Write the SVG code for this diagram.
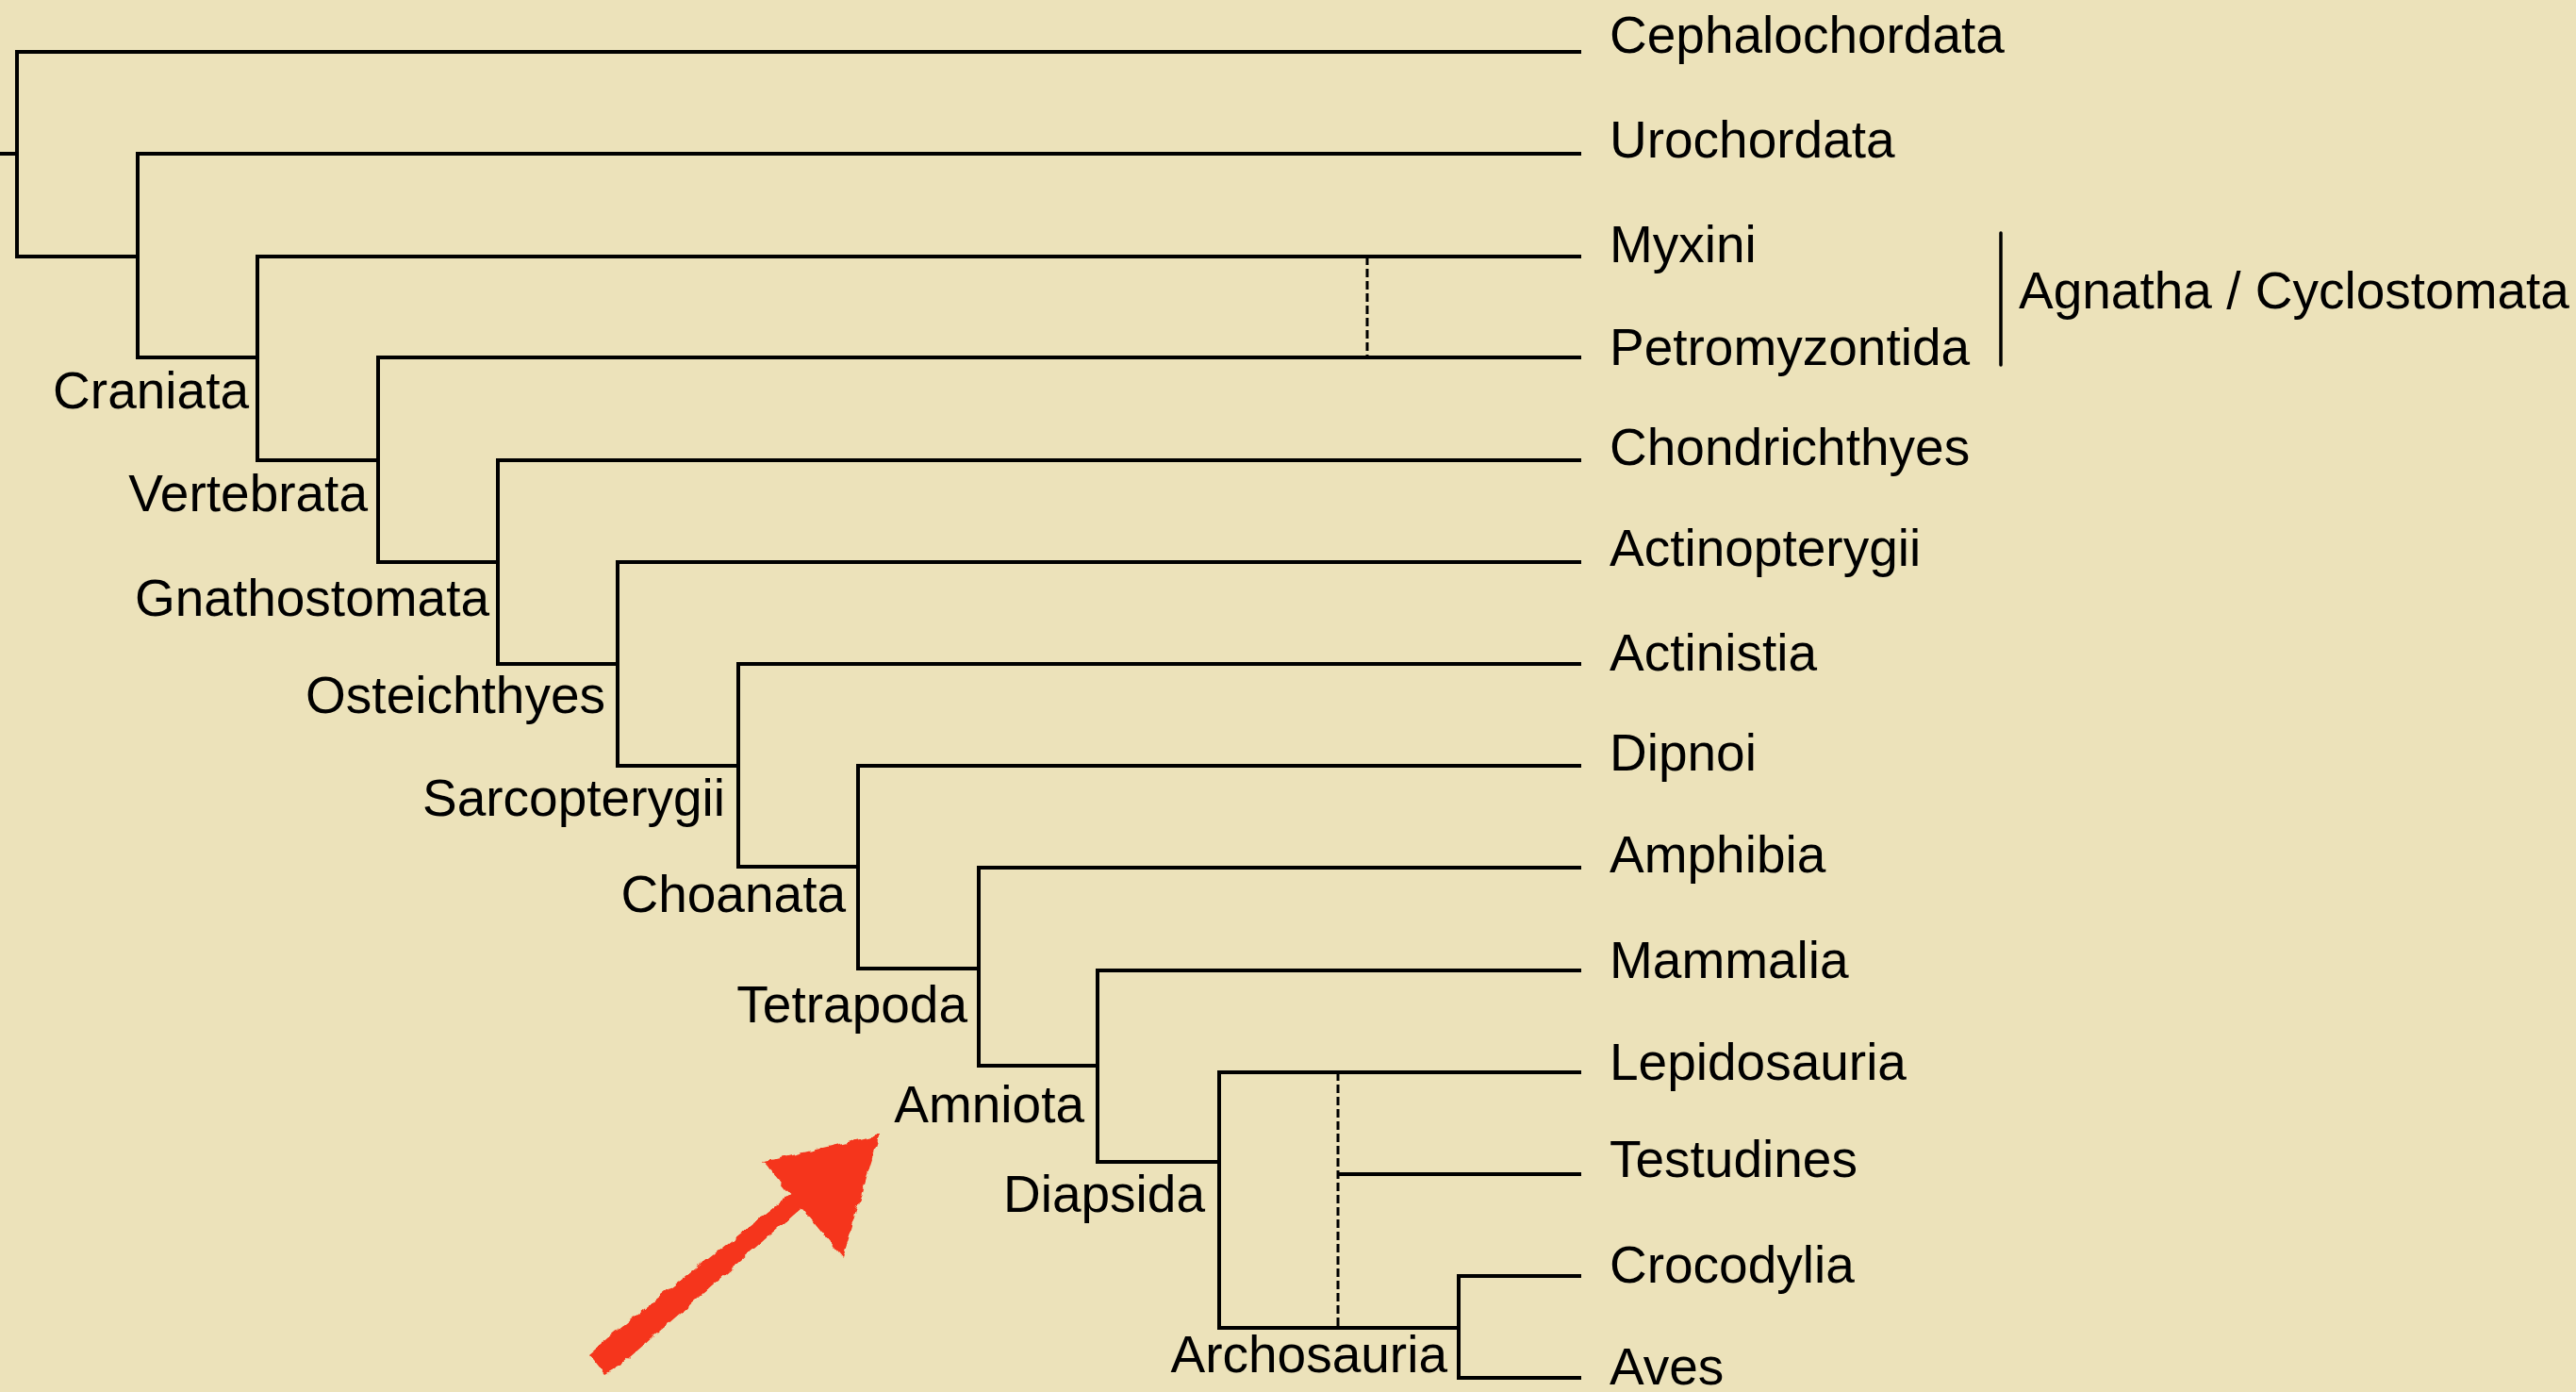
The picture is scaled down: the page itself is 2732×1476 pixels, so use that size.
<svg xmlns="http://www.w3.org/2000/svg" width="2732" height="1476" viewBox="0 0 2732 1476">
  <style>
    .bg { fill: #ece2ba; }
    .br { fill: none; stroke: #000; stroke-width: 4; stroke-linejoin: miter; stroke-linecap: butt; }
    .dash { fill: none; stroke: #000; stroke-width: 3; stroke-dasharray: 9 4; }
    .brk { fill: none; stroke: #000; stroke-width: 3.5; stroke-linecap: round; }
    text { font-family: "Liberation Sans", Arial, Helvetica, sans-serif; font-size: 55px; fill: #000; }
    .leaf { text-anchor: start; }
    .clade { text-anchor: end; }
    .arrow { fill: #f5361c; }
  </style>
  <defs>
    <filter id="rough" x="-10%" y="-10%" width="120%" height="120%">
      <feTurbulence type="fractalNoise" baseFrequency="0.09" numOctaves="2" seed="3" result="n"/>
      <feDisplacementMap in="SourceGraphic" in2="n" scale="7" xChannelSelector="R" yChannelSelector="G"/>
    </filter>
  </defs>
  <rect class="bg" x="0" y="0" width="2732" height="1476"/>

  <g id="connectors">
    <path class="br" d="M0 163 H18"/>
    <path class="br" d="M1677 55 H18 V272 H146"/>
    <path class="br" d="M1677 163 H146 V379 H273"/>
    <path class="br" d="M1677 272 H273 V488 H401"/>
    <path class="br" d="M1677 379 H401 V596 H528"/>
    <path class="br" d="M1677 488 H528 V704 H655"/>
    <path class="br" d="M1677 596 H655 V812 H783"/>
    <path class="br" d="M1677 704 H783 V919 H910"/>
    <path class="br" d="M1677 812 H910 V1027 H1038"/>
    <path class="br" d="M1677 920 H1038 V1130 H1164"/>
    <path class="br" d="M1677 1029 H1164 V1232 H1293"/>
    <path class="br" d="M1677 1137 H1293 V1408 H1547"/>
    <path class="br" d="M1677 1245 H1419"/>
    <path class="br" d="M1677 1353 H1547 V1461 H1677"/>
    <path class="dash" d="M1450 272 V379"/>
    <path class="dash" d="M1419 1137 V1408"/>
    <path class="brk" d="M2122 247 V387"/>
  </g>

  <g id="leaf-cephalochordata"><text class="leaf" x="1707" y="56">Cephalochordata</text></g>
  <g id="leaf-urochordata"><text class="leaf" x="1707" y="167">Urochordata</text></g>
  <g id="leaf-myxini"><text class="leaf" x="1707" y="278">Myxini</text></g>
  <g id="leaf-petromyzontida"><text class="leaf" x="1707" y="387">Petromyzontida</text></g>
  <g id="leaf-chondrichthyes"><text class="leaf" x="1707" y="493">Chondrichthyes</text></g>
  <g id="leaf-actinopterygii"><text class="leaf" x="1707" y="600">Actinopterygii</text></g>
  <g id="leaf-actinistia"><text class="leaf" x="1707" y="711">Actinistia</text></g>
  <g id="leaf-dipnoi"><text class="leaf" x="1707" y="817">Dipnoi</text></g>
  <g id="leaf-amphibia"><text class="leaf" x="1707" y="925">Amphibia</text></g>
  <g id="leaf-mammalia"><text class="leaf" x="1707" y="1037">Mammalia</text></g>
  <g id="leaf-lepidosauria"><text class="leaf" x="1707" y="1145">Lepidosauria</text></g>
  <g id="leaf-testudines"><text class="leaf" x="1707" y="1248">Testudines</text></g>
  <g id="leaf-crocodylia"><text class="leaf" x="1707" y="1360">Crocodylia</text></g>
  <g id="leaf-aves"><text class="leaf" x="1707" y="1468">Aves</text></g>

  <g id="group-agnatha"><text class="leaf" x="2141" y="327">Agnatha / Cyclostomata</text></g>

  <g id="clade-craniata"><text class="clade" x="264" y="433">Craniata</text></g>
  <g id="clade-vertebrata"><text class="clade" x="390" y="542">Vertebrata</text></g>
  <g id="clade-gnathostomata"><text class="clade" x="519" y="653">Gnathostomata</text></g>
  <g id="clade-osteichthyes"><text class="clade" x="642" y="756">Osteichthyes</text></g>
  <g id="clade-sarcopterygii"><text class="clade" x="769" y="865">Sarcopterygii</text></g>
  <g id="clade-choanata"><text class="clade" x="897" y="967">Choanata</text></g>
  <g id="clade-tetrapoda"><text class="clade" x="1026" y="1084">Tetrapoda</text></g>
  <g id="clade-amniota"><text class="clade" x="1150" y="1190">Amniota</text></g>
  <g id="clade-diapsida"><text class="clade" x="1278" y="1285">Diapsida</text></g>
  <g id="clade-archosauria"><text class="clade" x="1535" y="1455">Archosauria</text></g>

  <g id="arrow" filter="url(#rough)">
    <polygon class="arrow" points="624,1436 641,1457 660,1446 856,1275 845,1261 650,1414"/>
    <polygon class="arrow" points="933,1203 810,1232 893,1333"/>
  </g>
</svg>
